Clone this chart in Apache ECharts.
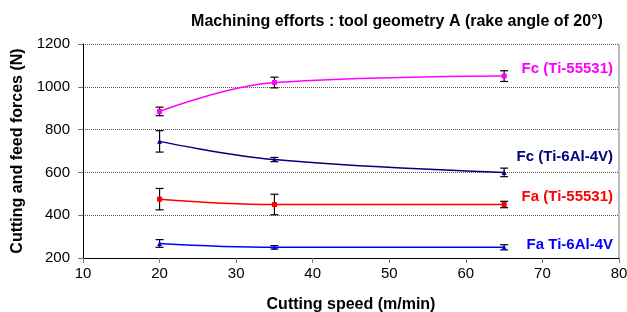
<!DOCTYPE html>
<html>
<head>
<meta charset="utf-8">
<script src="https://cdn.jsdelivr.net/npm/echarts@6/dist/echarts.min.js"></script>
<style>
  html, body { margin: 0; padding: 0; background: #fff; }
  #chart { width: 627px; height: 312px; }
</style>
</head>
<body>
<div id="chart"></div>
<script>
// cutting speed (m/min)
const speeds = [20, 35, 65]

// forces (N) and error half-widths
const fcTi55531 = [885, 1020, 1050]
const fcTi55531Err = [20, 25, 25]
const fcTi64 = [745, 660, 600]
const fcTi64Err = [50, 10, 20]
const faTi55531 = [475, 450, 450]
const faTi55531Err = [50, 48, 15]
const faTi64 = [268, 250, 250]
const faTi64Err = [18, 8, 12]

const seriesNames = ['Fc (Ti-55531)', 'Fc (Ti-6Al-4V)', 'Fa (Ti-55531)', 'Fa Ti-6Al-4V']
const seriesColors = ['#ff00ff', '#000080', '#ff0000', '#0000ff']
const seriesSymbols = ['rect', 'triangle', 'rect', 'triangle']
const allValues = [fcTi55531, fcTi64, faTi55531, faTi64]
const allErrors = [fcTi55531Err, fcTi64Err, faTi55531Err, faTi64Err]

const font = 'Arial, "Liberation Sans", sans-serif'
const chart = echarts.init(document.getElementById('chart'))

const lineSeries = allValues.map((vals, i) => ({
  name: seriesNames[i],
  type: 'line',
  smooth: 0.4,
  data: vals.map((v, j) => [speeds[j], v]),
  symbol: seriesSymbols[i],
  symbolSize: 5,
  lineStyle: { color: seriesColors[i], width: 1.5 },
  itemStyle: { color: seriesColors[i] },
  z: 3
}))

const errorSeries = allValues.map((vals, i) => ({
  type: 'custom',
  data: vals.map((v, j) => [speeds[j], v - allErrors[i][j], v + allErrors[i][j]]),
  renderItem(params, api) {
    const lo = api.coord([api.value(0), api.value(1)])
    const hi = api.coord([api.value(0), api.value(2)])
    const w = 4
    const style = { stroke: '#000', lineWidth: 1.2 }
    return {
      type: 'group',
      children: [
        { type: 'line', shape: { x1: lo[0], y1: lo[1], x2: hi[0], y2: hi[1] }, style },
        { type: 'line', shape: { x1: lo[0] - w, y1: lo[1], x2: lo[0] + w, y2: lo[1] }, style },
        { type: 'line', shape: { x1: hi[0] - w, y1: hi[1], x2: hi[0] + w, y2: hi[1] }, style }
      ]
    }
  },
  z: 2
}))

// series labels at the right of the plot
const labelY = [70, 158, 198, 246]
const labelGraphics = seriesNames.map((n, i) => ({
  type: 'text',
  right: 14,
  top: labelY[i] - 9,
  style: { text: n, fill: seriesColors[i], font: 'bold 15px ' + font }
}))

chart.setOption({
  animation: false,
  title: {
    text: 'Machining efforts : tool geometry A (rake angle of 20°)',
    left: 392,
    top: 9,
    textAlign: 'center',
    textStyle: { fontFamily: font, fontSize: 16, fontWeight: 'bold', color: '#000' }
  },
  grid: { left: 83, right: 8, top: 44, bottom: 54, outerBoundsMode: 'none', containLabel: false },
  xAxis: {
    type: 'value',
    min: 10,
    max: 80,
    interval: 10,
    name: 'Cutting speed (m/min)',
    nameLocation: 'middle',
    nameGap: 39,
    nameTextStyle: { fontFamily: font, fontSize: 16, fontWeight: 'bold', color: '#000' },
    axisLine: { lineStyle: { color: '#000', width: 1 } },
    axisTick: { show: true, length: 5, inside: false, lineStyle: { color: '#777' } },
    axisLabel: { fontFamily: font, fontSize: 15, color: '#000', margin: 8 },
    splitLine: { show: false }
  },
  yAxis: {
    type: 'value',
    min: 200,
    max: 1200,
    interval: 200,
    name: 'Cutting and feed forces (N)',
    nameLocation: 'middle',
    nameGap: 57,
    nameTextStyle: { fontFamily: font, fontSize: 16, fontWeight: 'bold', color: '#000' },
    axisLine: { show: true, lineStyle: { color: '#000', width: 1 } },
    axisTick: { show: true, length: 5, lineStyle: { color: '#777' } },
    axisLabel: { fontFamily: font, fontSize: 15, color: '#000', margin: 13, formatter: v => String(v) },
    splitLine: { show: true, lineStyle: { color: '#555', type: [1, 1], width: 1 } }
  },
  graphic: [
    {
      type: 'line',
      shape: { x1: 619, y1: 44, x2: 619, y2: 258 },
      style: { stroke: '#bbb', lineWidth: 2 }
    }
  ].concat(labelGraphics),
  series: lineSeries.concat(errorSeries)
})
</script>
</body>
</html>
